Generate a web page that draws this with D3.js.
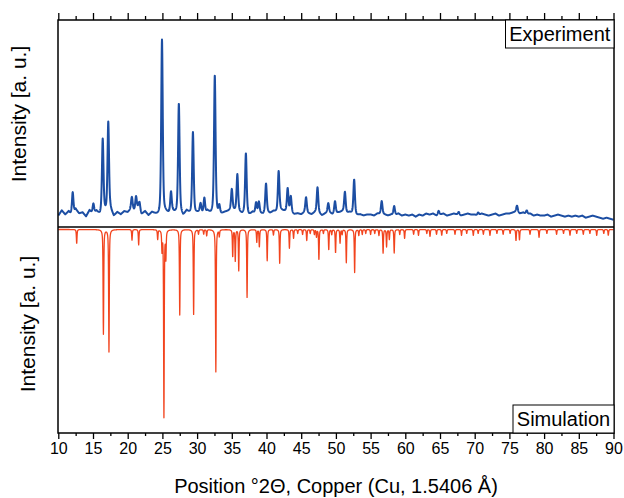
<!DOCTYPE html>
<html>
<head>
<meta charset="utf-8">
<script src="https://cdn.jsdelivr.net/npm/d3@7"></script>
<style>
  body { margin: 0; background: #fff; }
  svg { display: block; font-family: Arial, "Liberation Sans", sans-serif; }
</style>
</head>
<body>
<svg id="chart" width="624" height="498"></svg>
<script>
// ===== DATA =====
// experiment: [2theta, height above background]
const expPeaks = [
  [12.07, 11.3], [15.05, 5], [16.4, 35.5], [17.2, 43.4], [20.6, 6], [21.2, 6.5], [21.7, 4],
  [24.94, 85], [26.24, 10], [27.37, 53], [29.4, 40], [30.5, 4], [31.04, 8], [32.55, 66.7], [33.2, 4],
  [35.0, 10], [35.8, 18], [37.03, 29], [38.5, 5.5], [38.9, 5.5], [39.93, 14], [41.75, 19.5],
  [43.05, 11.5], [43.5, 8], [45.7, 7.5], [47.35, 12.5], [48.9, 4.5], [49.87, 6], [51.3, 10],
  [52.63, 17], [56.6, 6.5], [58.4, 4.5], [64.8, 2], [67.7, 1.5], [70.5, 1.5], [76.1, 3], [77.5, 2]
];

// experiment background, every 0.5 deg from 10 to 90
const expBackground = [
  5.5, 8, 6, 7.5, 5, 8.5, 6.5, 7, 5, 8,
  6, 7.5, 5.5, 7, 6.5, 8, 5, 7, 6, 7.5,
  7, 8.5, 7.5, 9, 6, 7.5, 5.5, 7, 6, 5,
  5.5, 6.5, 6, 7, 6, 6.5, 5, 7.5, 6, 5.5,
  6.5, 7, 5.5, 7.5, 6, 6.5, 5.5, 6, 7, 7.5,
  8, 7.5, 7, 6, 6.5, 5.5, 7, 6, 6.5, 6,
  7, 6.5, 7.5, 7, 8, 7.5, 7, 6.5, 6, 6.5,
  6, 7, 6.5, 6, 7, 6.5, 5.5, 6.5, 7, 6,
  6.5, 7, 7.5, 6.5, 7, 6, 5.5, 6, 5.5, 6,
  6, 5.5, 6.5, 6, 6, 5.5, 6, 5.5, 6.5, 5.5,
  6, 5.5, 6, 5, 6, 5.5, 6.5, 6, 6.5, 5.5,
  6, 6.5, 5.5, 6, 6.5, 6, 5.5, 6, 6.5, 6,
  6, 5.5, 6.5, 6, 5.5, 6, 6.5, 5.5, 6, 6.5,
  6.5, 7, 7.5, 6.5, 7, 6, 6.5, 5.5, 6, 5.5,
  5.5, 6, 5, 5.5, 6, 5.5, 5, 5.5, 5, 5.5,
  5, 5.5, 4.5, 5, 5.5, 5, 4.5, 4, 4.5, 4,
  3.5
];

// simulation: [2theta, intensity]
const simPeaks = [
  [12.65, 7.2], [16.5, 53.6], [17.3, 62.7], [20.62, 5.4], [21.58, 7.9], [24.32, 4.9], [24.94, 10],
  [25.22, 96], [25.5, 14], [27.5, 43.8], [29.5, 43.5], [30.2, 2.3], [30.95, 2.3], [31.38, 3.2],
  [32.7, 73], [33.2, 3.3], [35.13, 14], [35.5, 16], [36.0, 21], [37.2, 34.8], [38.6, 6.4],
  [38.97, 9], [40.1, 16], [41.0, 2.8], [41.9, 17.3], [43.3, 9.6], [43.9, 4.5], [44.5, 2],
  [45.2, 2.5], [45.8, 5.6], [46.3, 2], [46.9, 2.5], [47.2, 3.7], [47.55, 15.6], [48.2, 2],
  [48.97, 10.5], [49.4, 2.5], [49.95, 12], [50.6, 6.9], [50.9, 2.5], [51.5, 17], [52.7, 22],
  [53.3, 3], [53.8, 2.5], [54.3, 2], [55.0, 2.5], [55.6, 2], [56.2, 3], [56.8, 12], [57.3, 8.8],
  [57.7, 5], [58.4, 12], [59.2, 2.5], [59.9, 4.5], [61.2, 2.5], [61.9, 3], [63.1, 2], [63.56, 3.5],
  [64.5, 2.5], [65.25, 3], [65.97, 2], [67.16, 2.5], [68.1, 3], [68.85, 2], [69.8, 3], [70.5, 2],
  [71.25, 2.5], [72.2, 3], [73.2, 2], [74.1, 2.5], [75.1, 2], [75.95, 5.7], [76.45, 5.4],
  [77.97, 2.5], [79.27, 4.1], [80.4, 2], [81.8, 2.5], [82.8, 2], [83.73, 3], [84.7, 2],
  [85.65, 2.5], [86.6, 2], [87.58, 3], [88.6, 2], [89.25, 3]
];

const majorTicks = [10, 15, 20, 25, 30, 35, 40, 45, 50, 55, 60, 65, 70, 75, 80, 85, 90];
const minorTicks = [12.5, 17.5, 22.5, 27.5, 32.5, 37.5, 42.5, 47.5, 52.5, 57.5, 62.5, 67.5, 72.5, 77.5, 82.5, 87.5];

// ===== LAYOUT =====
const frameL = 58, frameR = 614, frameT = 20, frameM = 227, frameB = 433;
const blue = "#1c4ea3";
const red = "#f2441e";

const svg = d3.select("#chart");

const x = d3.scaleLinear().domain([10, 90]).range([frameL + 0.3, frameR - 0.5]);
const yExp = d3.scaleLinear().domain([0, 100]).range([frameM, frameT]);
const ySim = d3.scaleLinear().domain([0, 100]).range([frameM + 2.5, frameM + 197.5]);

// peak shape (pseudo-Voigt)
function profile(t, peaks, hw, eta) {
  let s = 0;
  peaks.forEach(p => {
    const u = (t - p[0]) / hw;
    if (Math.abs(u) > 60) return;
    s += p[1] * (eta / (1 + u * u) + (1 - eta) * Math.exp(-Math.LN2 * u * u));
  });
  return s;
}

function background(t) {
  const f = (t - 10) / 0.5;
  const i = Math.min(Math.floor(f), expBackground.length - 2);
  const r = f - i;
  return expBackground[i] * (1 - r) + expBackground[i + 1] * r;
}

const grid = d3.range(10, 90.0001, 0.02);
const expLine = grid.map(t => [t, background(t) + profile(t, expPeaks, 0.13, 0.5)]);
const simLine = grid.map(t => [t, profile(t, simPeaks, 0.055, 0.6)]);

// clips
const defs = svg.append("defs");
defs.append("clipPath").attr("id", "clipTop")
  .append("rect").attr("x", frameL).attr("y", frameT).attr("width", frameR - frameL).attr("height", frameM - frameT);
defs.append("clipPath").attr("id", "clipBot")
  .append("rect").attr("x", frameL).attr("y", frameM).attr("width", frameR - frameL).attr("height", frameB - frameM);

// ===== LINES =====
svg.append("path")
  .datum(expLine)
  .attr("clip-path", "url(#clipTop)")
  .attr("fill", "none")
  .attr("stroke", blue)
  .attr("stroke-width", 2)
  .attr("stroke-linejoin", "round")
  .attr("d", d3.line().x(d => x(d[0])).y(d => yExp(d[1])));

svg.append("path")
  .datum(simLine)
  .attr("clip-path", "url(#clipBot)")
  .attr("fill", "none")
  .attr("stroke", red)
  .attr("stroke-width", 1.3)
  .attr("stroke-linejoin", "round")
  .attr("d", d3.line().x(d => x(d[0])).y(d => ySim(d[1])));

// ===== AXES =====
function styleAxis(g) {
  g.select(".domain").remove();
  g.selectAll(".tick line").attr("stroke", "#000").attr("stroke-width", 1.3);
}

svg.append("g")
  .attr("transform", `translate(0,${frameB})`)
  .call(d3.axisBottom(x).tickValues(majorTicks).tickSize(6).tickPadding(4).tickFormat(d3.format("d")))
  .call(styleAxis)
  .call(g => g.selectAll("text").attr("font-size", 16).attr("fill", "#000")
    .attr("font-family", "Arial, 'Liberation Sans', sans-serif"));

svg.append("g")
  .attr("transform", `translate(0,${frameB})`)
  .call(d3.axisBottom(x).tickValues(minorTicks).tickSize(3).tickFormat(""))
  .call(styleAxis);

svg.append("g")
  .attr("transform", `translate(0,${frameT})`)
  .call(d3.axisTop(x).tickValues(majorTicks).tickSize(7).tickFormat(""))
  .call(styleAxis);

svg.append("g")
  .attr("transform", `translate(0,${frameT})`)
  .call(d3.axisTop(x).tickValues(minorTicks).tickSize(4).tickFormat(""))
  .call(styleAxis);

// frame + divider
svg.append("rect")
  .attr("x", frameL).attr("y", frameT)
  .attr("width", frameR - frameL).attr("height", frameB - frameT)
  .attr("fill", "none").attr("stroke", "#000").attr("stroke-width", 1.5);

svg.append("line")
  .attr("x1", frameL).attr("x2", frameR).attr("y1", frameM).attr("y2", frameM)
  .attr("stroke", "#000").attr("stroke-width", 1.5);

// ===== LABEL BOXES =====
function labelBox(text, x0, y0, w, h) {
  svg.append("rect")
    .attr("x", x0).attr("y", y0).attr("width", w).attr("height", h)
    .attr("fill", "#fff").attr("stroke", "#000").attr("stroke-width", 1);
  svg.append("text")
    .attr("x", x0 + w / 2).attr("y", y0 + h / 2 + 7)
    .attr("text-anchor", "middle")
    .attr("font-size", 20)
    .text(text);
}
labelBox("Experiment", 505.5, frameT, frameR - 505.5, 28);
labelBox("Simulation", 513, frameB - 28, frameR - 513, 28);

// ===== TITLES =====
svg.append("text")
  .attr("transform", "translate(26,114) rotate(-90)")
  .attr("text-anchor", "middle")
  .attr("font-size", 21)
  .text("Intensity [a. u.]");

svg.append("text")
  .attr("transform", "translate(35,324) rotate(-90)")
  .attr("text-anchor", "middle")
  .attr("font-size", 21)
  .text("Intensity [a. u.]");

svg.append("text")
  .attr("x", (frameL + frameR) / 2).attr("y", 493)
  .attr("text-anchor", "middle")
  .attr("font-size", 20)
  .text("Position °2Θ, Copper (Cu, 1.5406 Å)");
</script>
</body>
</html>
